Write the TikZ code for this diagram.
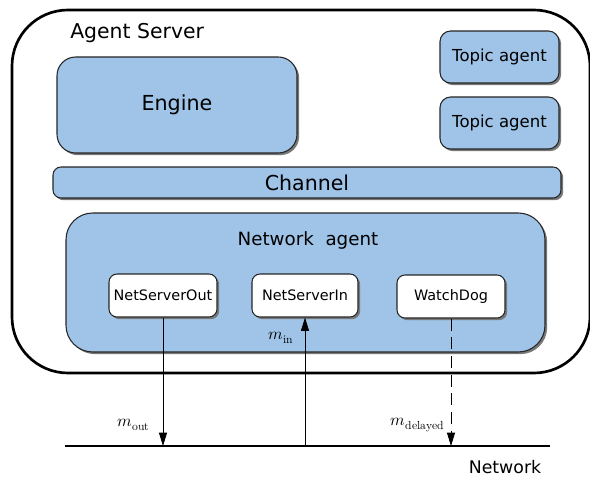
\documentclass[tikz,border=0pt]{standalone}
\usepackage{fontspec}
\setmainfont{DejaVu Sans}
\usepackage{unicode-math}
\setmathfont{Latin Modern Math}
\usetikzlibrary{shadows,arrows.meta}
\definecolor{boxblue}{RGB}{159,196,232}
\definecolor{shadowgray}{RGB}{120,120,120}
\tikzset{
  bluebox/.style={draw=black!85, line width=0.8pt, fill=boxblue, rounded corners=#1,
    drop shadow={shadow xshift=1.6pt, shadow yshift=-1.6pt, fill=shadowgray, opacity=1}},
  bluebox/.default=8pt,
  whitebox/.style={draw=black!85, line width=0.8pt, fill=white, rounded corners=6pt,
    drop shadow={shadow xshift=1.6pt, shadow yshift=-1.6pt, fill=shadowgray, opacity=1}},
  msg/.style={line width=0.6pt, -{Triangle[length=10pt,width=6pt]}},
  lbl/.style={inner sep=0pt}
}
\begin{document}
\begin{tikzpicture}[x=0.75pt,y=-0.75pt]
\useasboundingbox (0,0) rectangle (590,478);
% outer server box
\draw[line width=2pt, rounded corners=42pt] (12,10) rectangle (590,373);
\node[lbl, anchor=west, font=\fontsize{15.3}{18}\selectfont] (srv) at (70,33) {Agent Server};
% engine
\node[bluebox=14pt, minimum width=240*0.75pt, minimum height=96*0.75pt, font=\fontsize{15.5}{18}\selectfont] (eng) at (177,105) {Engine};
% topic agents
\node[bluebox=8pt, minimum width=119*0.75pt, minimum height=52*0.75pt, font=\fontsize{12.4}{14}\selectfont] (ta1) at (499.5,57) {Topic agent};
\node[bluebox=8pt, minimum width=119*0.75pt, minimum height=52*0.75pt, font=\fontsize{12.4}{14}\selectfont] (ta2) at (499.5,123) {Topic agent};
% channel
\node[bluebox=6pt, minimum width=508*0.75pt, minimum height=31*0.75pt, font=\fontsize{15.4}{17}\selectfont] (chan) at (307,182.5) {Channel};
% network agent
\node[bluebox=20pt, minimum width=479*0.75pt, minimum height=139*0.75pt] (na) at (305.5,282.5) {};
\node[lbl, font=\fontsize{13.7}{16}\selectfont] (natxt) at (308,240) {Network\ \ agent};
% inner white boxes
\node[whitebox, minimum width=108*0.75pt, minimum height=43*0.75pt, font=\fontsize{10.8}{12}\selectfont] (nso) at (163,295.5) {NetServerOut};
\node[whitebox, minimum width=106*0.75pt, minimum height=43*0.75pt, font=\fontsize{10.8}{12}\selectfont] (nsi) at (305,295.5) {NetServerIn};
\node[whitebox, minimum width=108*0.75pt, minimum height=43*0.75pt, font=\fontsize{10.8}{12}\selectfont] (wd) at (451,296.5) {WatchDog};
% network line
\coordinate (netL) at (65,446);
\coordinate (netR) at (550,446);
\draw[line width=2pt] (netL) -- (netR);
\node[lbl, font=\fontsize{13}{15}\selectfont] (nettxt) at (505,467) {Network};
% message arrows
\draw[msg] (nso.south) -- (nso.south |- netL);
\draw[msg] (nsi.south |- netL) -- (nsi.south);
\draw[msg, dash pattern=on 9pt off 5pt] (wd.south) -- (wd.south |- netL);
% labels
\node[lbl, font=\fontsize{12.5}{14}\selectfont] (lin) at (281,338) {$m_{\symup{in}}$};
\node[lbl, font=\fontsize{12.5}{14}\selectfont] (lout) at (134,425) {$m_{\symup{out}}$};
\node[lbl, font=\fontsize{12.5}{14}\selectfont] (ldel) at (418,425) {$m_{\symup{delayed}}$};
\end{tikzpicture}
\end{document}
